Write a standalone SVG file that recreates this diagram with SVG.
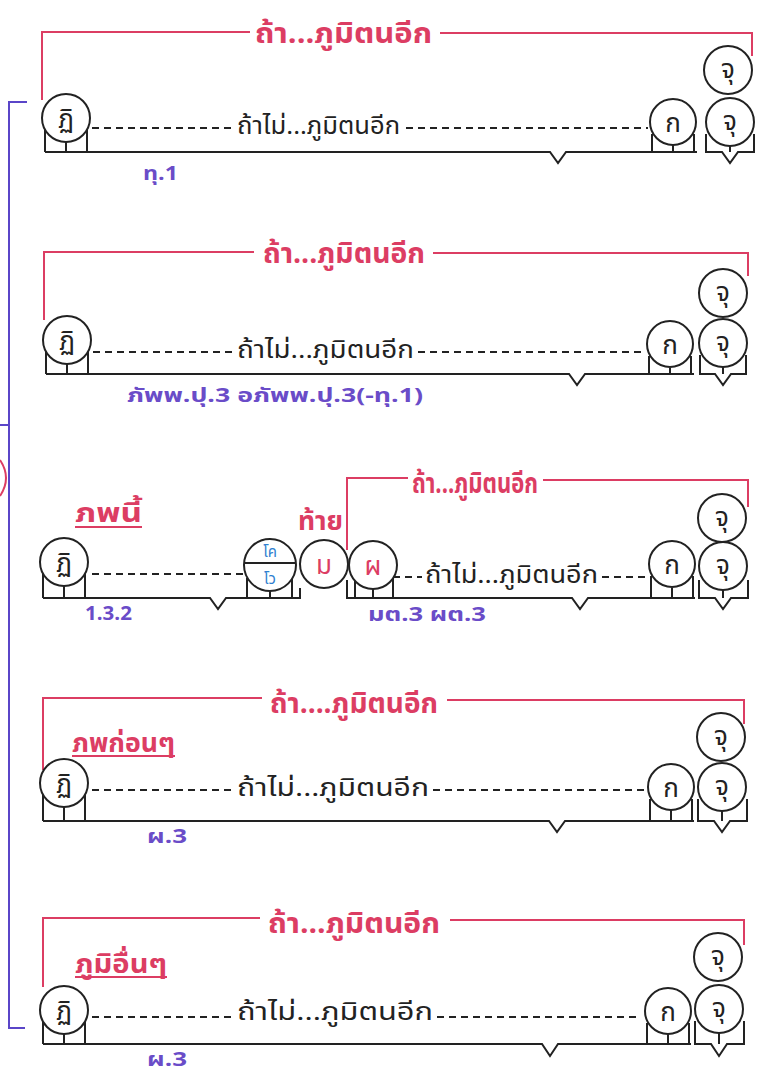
<svg xmlns="http://www.w3.org/2000/svg" width="765" height="1080" viewBox="0 0 765 1080">
<style>
text{font-family:"Noto Sans Thai","Noto Sans","DejaVu Sans",sans-serif}
.k{stroke:#222;stroke-width:2;fill:none}
.c{fill:#fff;stroke:#222;stroke-width:2}
.r{stroke:#dc3d63;stroke-width:2;fill:none}
.d{stroke:#222;stroke-width:2;stroke-dasharray:7 5;fill:none}
.p{stroke:#5a45c8;stroke-width:2;fill:none}
.rt{fill:#dc3d63;font-size:28px;font-weight:bold}
.rl{fill:#dc3d63;font-size:26px;font-weight:bold}
.bt{fill:#222;font-size:24px}
.ct{fill:#222;font-size:26px;text-anchor:middle}
.cr{fill:#dc3d63;font-size:26px;text-anchor:middle}
.cb{fill:#2f7fd0;font-size:15px;text-anchor:middle}
.pt{fill:#6a4cc8;font-size:20px;font-weight:bold}
</style>
<g id="connectors">
<path class="p" d="M27 102H9V1028H25M0 425H9"/>
<path class="r" d="M0 460Q12 478 0 496"/>
<!-- row1 -->
<path class="r" d="M42 100V32H250M440 33H752V56"/>
<path class="k" d="M45 130V152M66 142V152M87 130V152M45 152H550L558 163L566 152H697M652 134V152M673 145V152M694 134V152M706 134V152H722L730 163L738 152H754V134M730 146V152"/>
<path class="d" d="M92 128H232M406 128H648"/>
<!-- row2 -->
<path class="r" d="M44 320V252H254M433 253H748V276"/>
<path class="k" d="M46 352V374M67 364V374M88 352V374M46 374H569L577 385L585 374H694M649 356V374M670 368V374M691 356V374M700 355V374H715L723 385L731 374H746V355M723 367V374"/>
<path class="d" d="M93 352H234M418 352H646"/>
<!-- row3 -->
<path class="r" d="M347 550V478H408M543 480H748V507"/>
<path class="k" d="M43 574V598M64 586V598M85 574V598M43 598H210L218 609L226 598H300V588M247 578V598M270 591V598M292 578V598M347 580V598H572L580 609L588 598H695M355 578V598M373 589V598M393 578V598M651 576V598M672 588V598M693 576V598M699 580V598H715L723 609L731 598H748V580M723 590V598"/>
<path class="d" d="M92 574H243M393 577H422M602 577H647"/>
<path class="r" d="M75 527H142"/>
<!-- row4 -->
<path class="r" d="M43 770V698H262M447 700H744V724"/>
<path class="k" d="M43 795V821M64 807V821M85 795V821M43 821H549L557 832L565 821H694M650 799V821M671 810V821M692 799V821M698 799V821H714L722 832L730 821H747V799M722 811V821"/>
<path class="d" d="M92 790H233M433 790H644"/>
<path class="r" d="M72 756H175"/>
<!-- row5 -->
<path class="r" d="M43 987V918H260M450 920H744V945"/>
<path class="k" d="M43 1022V1044M64 1034V1044M85 1022V1044M43 1044H542L550 1056L558 1044H691M647 1023V1044M668 1034V1044M689 1023V1044M695 1021V1044H711L719 1056L727 1044H744V1021M719 1033V1044"/>
<path class="d" d="M92 1017H233M437 1017H640"/>
<path class="r" d="M75 977H167"/>
</g>
<g id="row1">
<text class="rt" x="255" y="43" textLength="177" lengthAdjust="spacingAndGlyphs">ถ้า...ภูมิตนอีก</text>
<text class="bt" x="237" y="134" textLength="163" lengthAdjust="spacingAndGlyphs">ถ้าไม่...ภูมิตนอีก</text>
<text class="pt" x="143" y="180" textLength="35" lengthAdjust="spacingAndGlyphs">ทุ.1</text>
</g>
<g id="n1-pati"><circle class="c" cx="66" cy="118" r="24"/><text class="ct" x="66" y="128">ฏิ</text></g>
<g id="n1-ka"><circle class="c" cx="673" cy="122" r="23"/><text class="ct" x="673" y="132">ก</text></g>
<g id="n1-cu"><circle class="c" cx="730" cy="122" r="24"/><text class="ct" x="730" y="130">จุ</text></g>
<g id="n1-cu-top"><circle class="c" cx="728" cy="70" r="24"/><text class="ct" x="728" y="78">จุ</text></g>
<g id="row2">
<text class="rt" x="263" y="263" textLength="162" lengthAdjust="spacingAndGlyphs">ถ้า...ภูมิตนอีก</text>
<text class="bt" x="237" y="358" textLength="177" lengthAdjust="spacingAndGlyphs">ถ้าไม่...ภูมิตนอีก</text>
<text class="pt" x="127" y="402" textLength="296" lengthAdjust="spacingAndGlyphs">ภัพพ.ปุ.3 อภัพพ.ปุ.3(-ทุ.1)</text>
</g>
<g id="n2-pati"><circle class="c" cx="67" cy="340" r="24"/><text class="ct" x="67" y="350">ฏิ</text></g>
<g id="n2-ka"><circle class="c" cx="670" cy="344" r="23"/><text class="ct" x="670" y="354">ก</text></g>
<g id="n2-cu"><circle class="c" cx="723" cy="343" r="24"/><text class="ct" x="723" y="351">จุ</text></g>
<g id="n2-cu-top"><circle class="c" cx="723" cy="293" r="24"/><text class="ct" x="723" y="301">จุ</text></g>
<g id="row3">
<text class="rt" x="412" y="493" textLength="126" lengthAdjust="spacingAndGlyphs">ถ้า...ภูมิตนอีก</text>
<text class="rl" x="75" y="522" textLength="67" lengthAdjust="spacingAndGlyphs">ภพนี้</text>
<text class="rl" x="298" y="530" textLength="45" lengthAdjust="spacingAndGlyphs">ท้าย</text>
<text class="bt" x="425" y="583" textLength="173" lengthAdjust="spacingAndGlyphs">ถ้าไม่...ภูมิตนอีก</text>
<text class="pt" x="85" y="620" textLength="47" lengthAdjust="spacingAndGlyphs">1.3.2</text>
<text class="pt" x="368" y="621" textLength="118" lengthAdjust="spacingAndGlyphs">มต.3 ผต.3</text>
</g>
<g id="n3-pati"><circle class="c" cx="64" cy="562" r="24"/><text class="ct" x="64" y="572">ฏิ</text></g>
<g id="n3-kovo"><circle class="c" cx="270" cy="565" r="26"/><path class="k" d="M244 563H296"/><text class="cb" x="270" y="557">โค</text><text class="cb" x="270" y="584">โว</text></g>
<g id="n3-ma"><circle class="c" cx="324" cy="564" r="24"/><text class="cr" x="324" y="574">ม</text></g>
<g id="n3-pha"><circle class="c" cx="373" cy="565" r="24"/><text class="cr" x="373" y="575">ผ</text></g>
<g id="n3-ka"><circle class="c" cx="672" cy="564" r="23"/><text class="ct" x="672" y="574">ก</text></g>
<g id="n3-cu"><circle class="c" cx="723" cy="566" r="24"/><text class="ct" x="723" y="574">จุ</text></g>
<g id="n3-cu-top"><circle class="c" cx="722" cy="518" r="24"/><text class="ct" x="722" y="526">จุ</text></g>
<g id="row4">
<text class="rt" x="270" y="713" textLength="168" lengthAdjust="spacingAndGlyphs">ถ้า....ภูมิตนอีก</text>
<text class="rl" x="72" y="752" textLength="103" lengthAdjust="spacingAndGlyphs">ภพก่อนๆ</text>
<text class="bt" x="237" y="796" textLength="192" lengthAdjust="spacingAndGlyphs">ถ้าไม่...ภูมิตนอีก</text>
<text class="pt" x="147" y="843" textLength="40" lengthAdjust="spacingAndGlyphs">ผ.3</text>
</g>
<g id="n4-pati"><circle class="c" cx="64" cy="783" r="24"/><text class="ct" x="64" y="793">ฏิ</text></g>
<g id="n4-ka"><circle class="c" cx="671" cy="787" r="23"/><text class="ct" x="671" y="797">ก</text></g>
<g id="n4-cu"><circle class="c" cx="722" cy="787" r="24"/><text class="ct" x="722" y="795">จุ</text></g>
<g id="n4-cu-top"><circle class="c" cx="721" cy="737" r="24"/><text class="ct" x="721" y="745">จุ</text></g>
<g id="row5">
<text class="rt" x="268" y="933" textLength="172" lengthAdjust="spacingAndGlyphs">ถ้า...ภูมิตนอีก</text>
<text class="rl" x="75" y="973" textLength="92" lengthAdjust="spacingAndGlyphs">ภูมิอื่นๆ</text>
<text class="bt" x="237" y="1020" textLength="196" lengthAdjust="spacingAndGlyphs">ถ้าไม่...ภูมิตนอีก</text>
<text class="pt" x="147" y="1066" textLength="40" lengthAdjust="spacingAndGlyphs">ผ.3</text>
</g>
<g id="n5-pati"><circle class="c" cx="64" cy="1010" r="24"/><text class="ct" x="64" y="1020">ฏิ</text></g>
<g id="n5-ka"><circle class="c" cx="668" cy="1011" r="23"/><text class="ct" x="668" y="1021">ก</text></g>
<g id="n5-cu"><circle class="c" cx="719" cy="1009" r="24"/><text class="ct" x="719" y="1017">จุ</text></g>
<g id="n5-cu-top"><circle class="c" cx="718" cy="957" r="24"/><text class="ct" x="718" y="965">จุ</text></g>
</svg>
